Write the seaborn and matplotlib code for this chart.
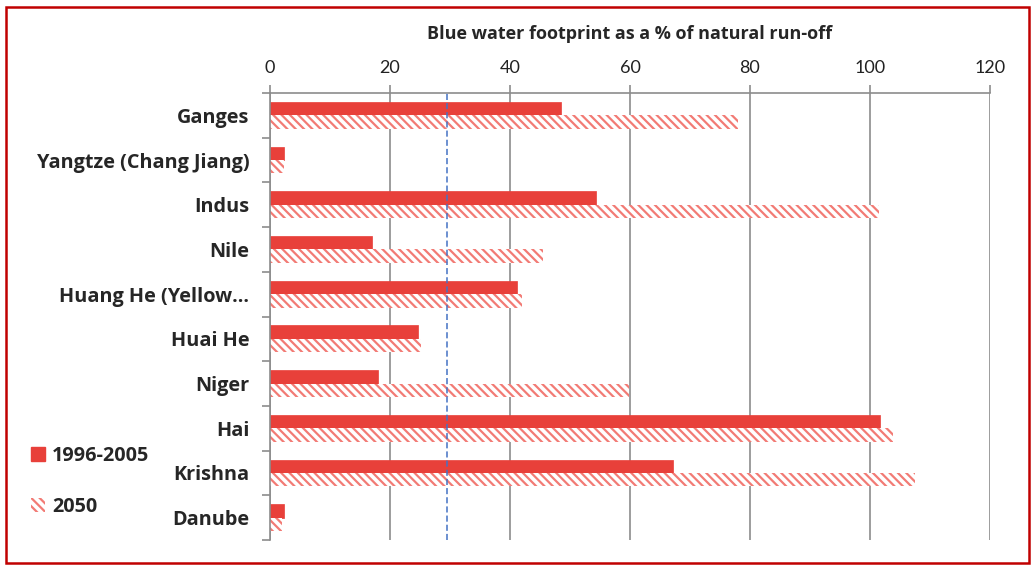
"""
Blue water footprint as a % of natural run-off, per river basin.
"""

import matplotlib
matplotlib.use("Agg")
import matplotlib.pyplot as plt
from matplotlib.patches import Patch, Rectangle
import pandas as pd
import seaborn as sns

basins = [
    "Ganges", "Yangtze (Chang Jiang)", "Indus", "Nile", "Huang He (Yellow…",
    "Huai He", "Niger", "Hai", "Krishna", "Danube",
]
period_labels = ["1996-2005", "2050"]
values_1996_2005 = [48.5, 2.3, 54.3, 17.0, 41.2, 24.7, 18.0, 101.7, 67.1, 2.3]
values_2050 = [78.0, 2.3, 101.5, 45.5, 42.0, 25.2, 59.8, 103.9, 107.5, 2.0]
threshold = 29.5
x_ticks = [0, 20, 40, 60, 80, 100, 120]

RED = "#E8403A"
HATCH_RED = "#F27B75"
HATCH = "\\" * 4
BOLD = ["Open Sans", "DejaVu Sans"]

df = pd.DataFrame({
    "basin": basins * 2,
    "period": [period_labels[0]] * len(basins) + [period_labels[1]] * len(basins),
    "value": values_1996_2005 + values_2050,
})

sns.set_style("white")
plt.rcParams["font.family"] = ["Lato", "DejaVu Sans"]
plt.rcParams["hatch.linewidth"] = 1.6

fig = plt.figure(figsize=(10.32, 5.66), dpi=100)
ax = fig.add_axes([0.2616, 0.0459, 0.6977, 0.7898])

sns.barplot(
    data=df, y="basin", x="value", hue="period", orient="h",
    order=basins, hue_order=period_labels,
    palette=[RED, "white"], width=0.6, gap=0, legend=False,
    saturation=1, ax=ax,
)

# second hue level -> hatched bars
n = len(basins)
for i, bar in enumerate(ax.patches[:2 * n]):
    if i < n:
        bar.set_facecolor(RED)
        bar.set_edgecolor(RED)
        bar.set_linewidth(0.5)
    else:
        bar.set_facecolor("white")
        bar.set_edgecolor(HATCH_RED)
        bar.set_hatch(HATCH)
        bar.set_linewidth(0)

ax.axvline(threshold, color="#4472C4", linestyle=(0, (4, 2)), linewidth=1.1, zorder=3)

ax.set_xlim(0, 120)
ax.set_ylim(n - 0.5, -0.5)
ax.set_xticks(x_ticks)
ax.xaxis.tick_top()
ax.xaxis.set_label_position("top")
ax.tick_params(axis="x", which="major", top=True, length=6, width=1.2, color="#8C8C8C",
               labelsize=13, pad=6, labelcolor="#222222")
ax.set_xlabel("Blue water footprint as a % of natural run-off", fontsize=13,
              fontweight="bold", family=BOLD, labelpad=15)
ax.set_ylabel("")

ax.set_yticks(range(n))
ax.set_yticklabels(basins, fontsize=14.3, fontweight="bold", family=BOLD)
ax.set_yticks([i - 0.5 for i in range(n + 1)], minor=True)
ax.tick_params(axis="y", which="major", length=0, pad=15)
ax.tick_params(axis="y", which="minor", left=True, length=6, width=1.2, color="#8C8C8C")

ax.grid(axis="x", color="#8C8C8C", linewidth=1.2)
ax.set_axisbelow(True)
for side in ["right", "bottom"]:
    ax.spines[side].set_visible(False)
for side in ["left", "top"]:
    ax.spines[side].set_color("#8C8C8C")
    ax.spines[side].set_linewidth(1.2)

handles = [
    Patch(facecolor=RED, edgecolor=RED, label=period_labels[0]),
    Patch(facecolor="white", edgecolor=HATCH_RED, hatch=HATCH, linewidth=0,
          label=period_labels[1]),
]
fig.legend(handles=handles, loc="upper left", bbox_to_anchor=(0.013, 0.243),
           frameon=False, handlelength=0.7, handleheight=0.7, handletextpad=0.35,
           labelspacing=1.55, prop={"weight": "bold", "size": 14.3, "family": BOLD})

fig.patches.append(Rectangle((0.0058, 0.006), 0.991, 0.9816, transform=fig.transFigure,
                             fill=False, edgecolor="#C00000", linewidth=1.8))

plt.savefig("out.png", dpi=100)
